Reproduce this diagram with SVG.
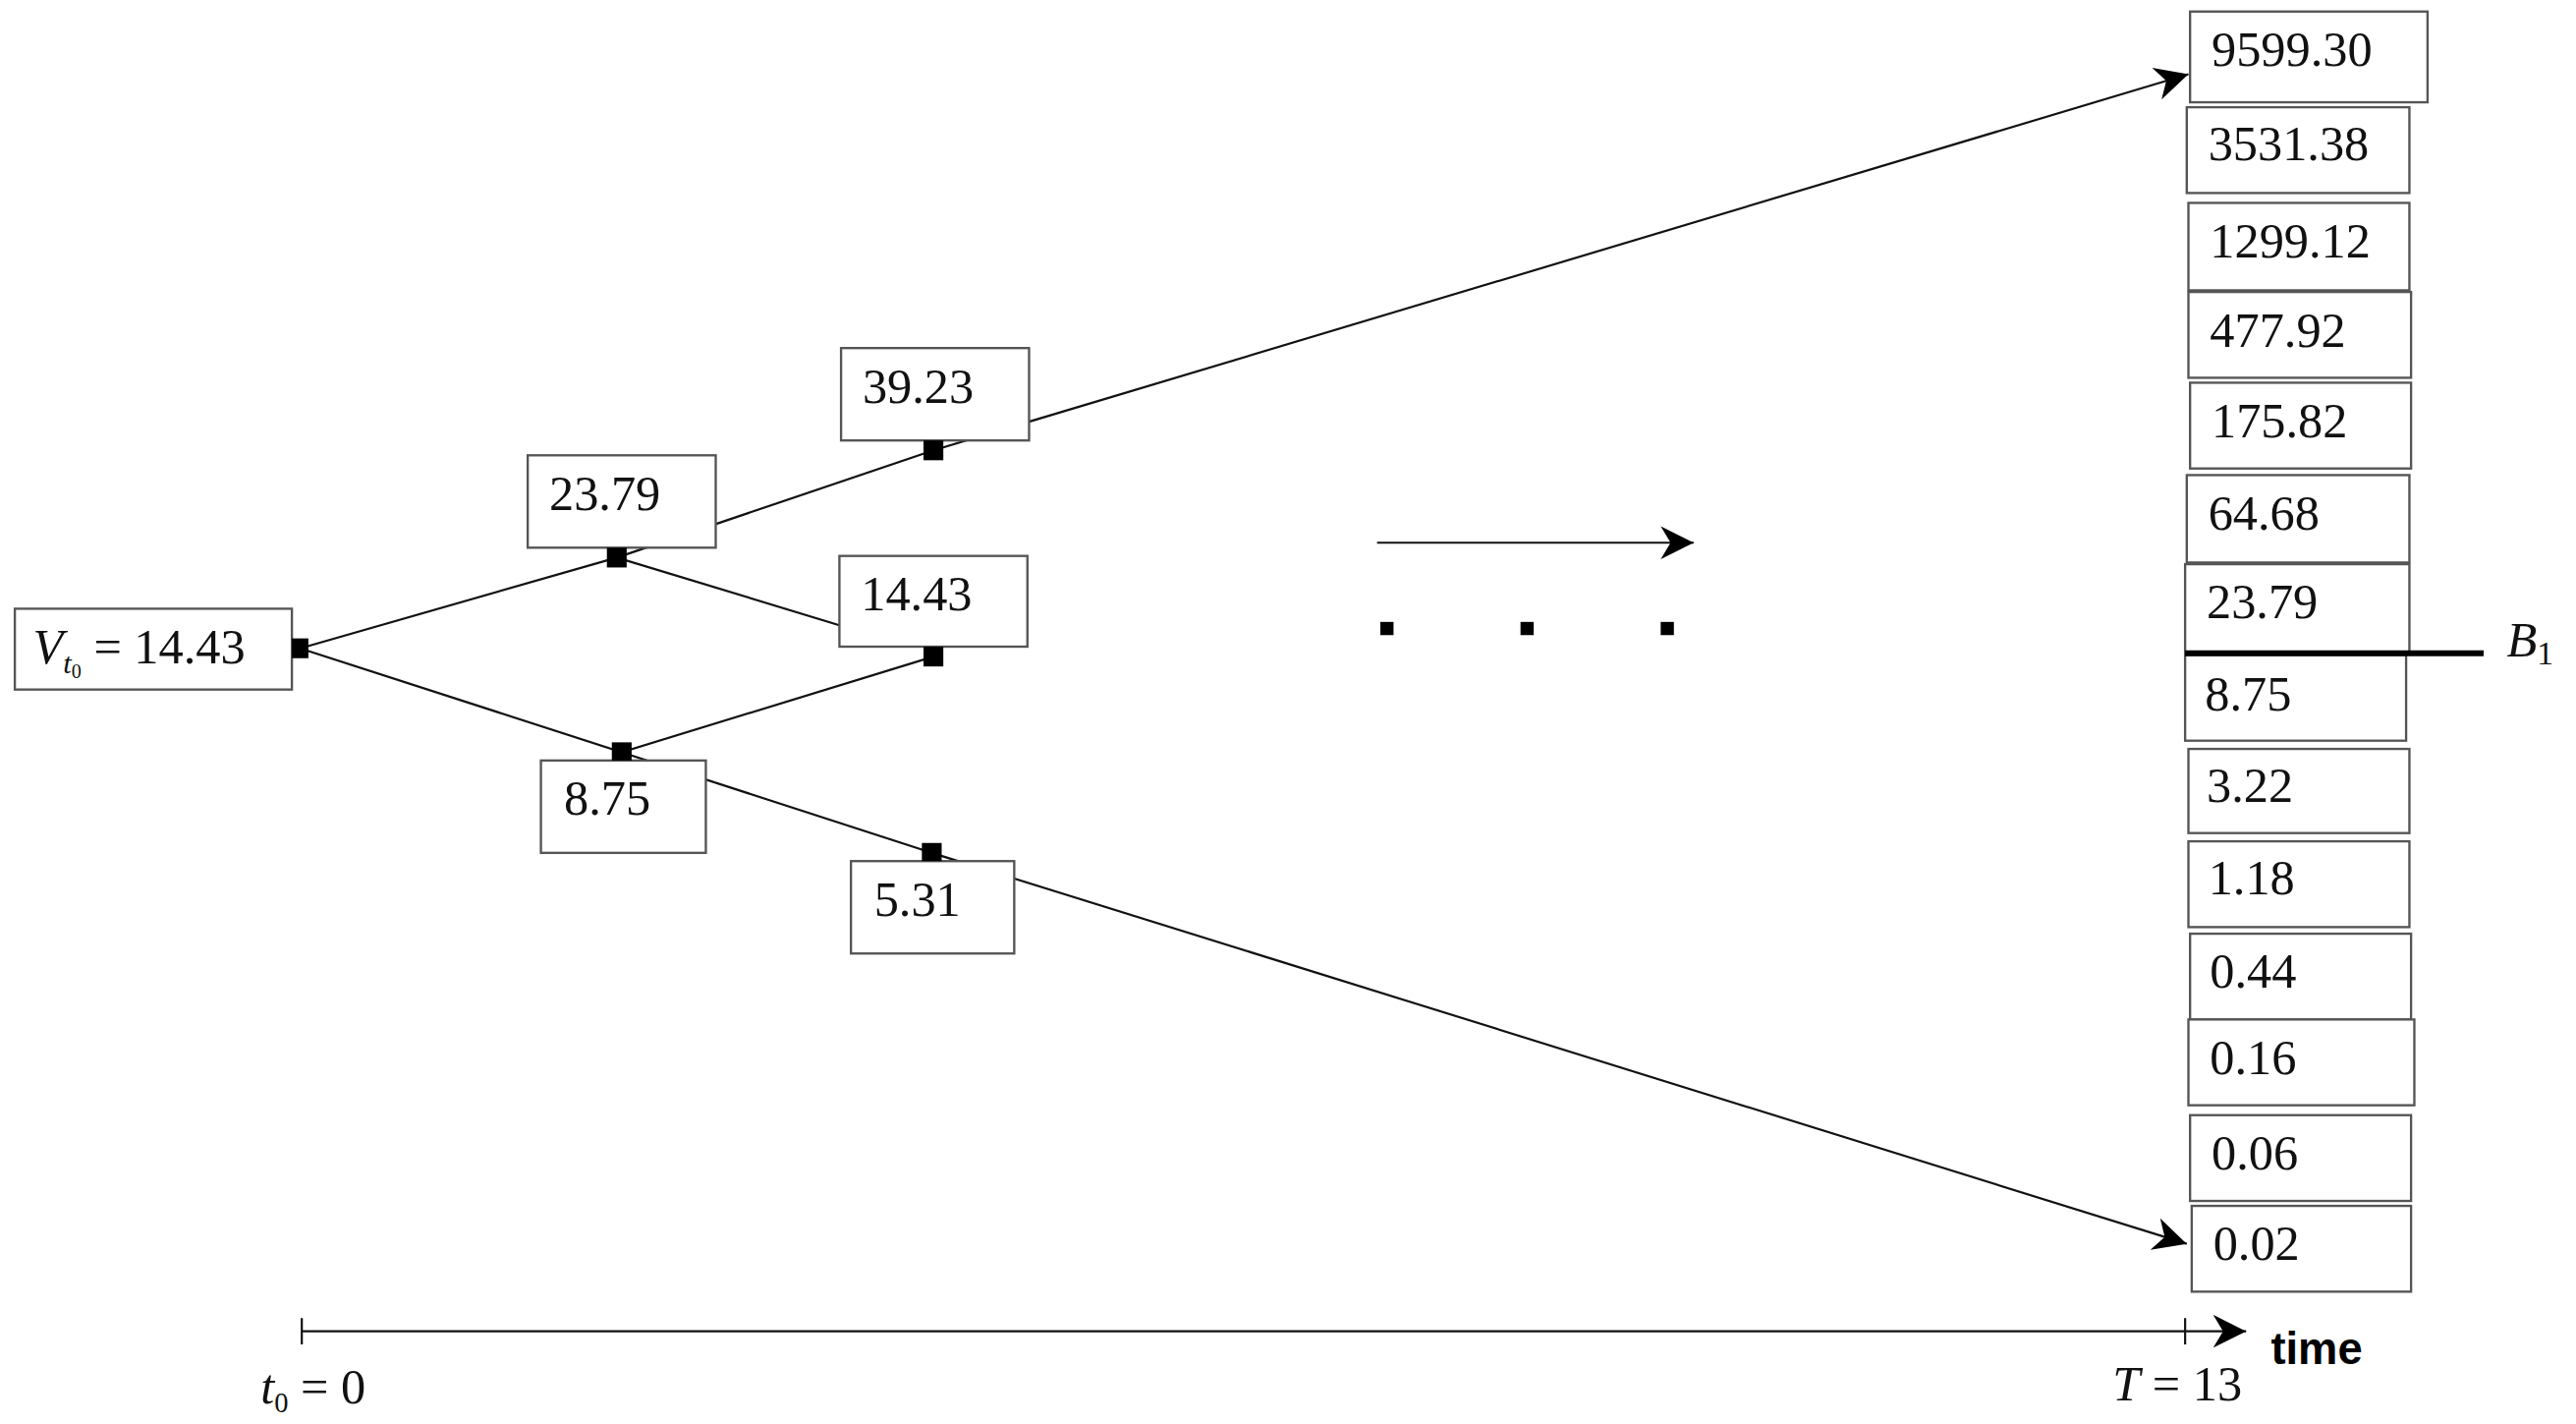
<svg xmlns="http://www.w3.org/2000/svg" width="2622" height="1449" viewBox="0 0 2622 1449">
<style>
.b{fill:#fff;stroke:#555;stroke-width:1.4}
.t{font-family:"Liberation Serif",serif;font-size:30px;fill:#111}
.l{stroke:#111;stroke-width:1.3;fill:none}
.sq{fill:#000}
</style>
<defs>
<marker id="ah" viewBox="0 0 10 10" refX="10" refY="5" markerWidth="22" markerHeight="20" markerUnits="userSpaceOnUse" orient="auto"><path d="M0,0 L10,5 L0,10 L3,5 z" fill="#000"/></marker>
</defs>
<rect width="2622" height="1449" fill="#fff"/>
<g transform="scale(1.6786)">
<g id="connectors">
<line class="l" x1="182" y1="393" x2="374" y2="338"/>
<line class="l" x1="182" y1="393" x2="377" y2="456"/>
<line class="l" x1="374" y1="338" x2="566" y2="273"/>
<line class="l" x1="566" y1="273" x2="1327" y2="45" marker-end="url(#ah)"/>
<line class="l" x1="374" y1="338" x2="509" y2="379"/>
<line class="l" x1="377" y1="456" x2="566" y2="398"/>
<line class="l" x1="377" y1="456" x2="565" y2="517"/>
<line class="l" x1="565" y1="517" x2="1326" y2="754" marker-end="url(#ah)"/>
<line class="l" x1="835" y1="329" x2="1027" y2="329" stroke-width="1.6" marker-end="url(#ah)"/>
<line class="l" x1="183" y1="807" x2="1362" y2="807" stroke-width="2" marker-end="url(#ah)"/>
<line class="l" x1="183" y1="799" x2="183" y2="815" stroke-width="2"/>
<line class="l" x1="1325" y1="799" x2="1325" y2="815" stroke-width="2"/>
</g>
<g id="dots"><rect class="sq" x="837" y="377" width="8" height="8"/><rect class="sq" x="922" y="377" width="8" height="8"/><rect class="sq" x="1007" y="377" width="8" height="8"/></g>
<g id="v0"><rect class="b" x="9" y="369" width="168" height="49"/><text class="t" x="20" y="402"><tspan font-style="italic">V</tspan><tspan font-style="italic" font-size="18" dy="6">t</tspan><tspan font-size="12" dy="3">0</tspan><tspan dy="-9"> = 14.43</tspan></text><rect class="sq" x="177" y="387" width="10" height="12"/></g>
<g id="n2379"><rect class="b" x="320" y="276" width="114" height="56"/><text class="t" x="333" y="309">23.79</text><rect class="sq" x="368" y="332" width="12" height="12"/></g>
<g id="n3923"><rect class="b" x="510" y="211" width="114" height="56"/><text class="t" x="523" y="244">39.23</text><rect class="sq" x="560" y="267" width="12" height="12"/></g>
<g id="n1443"><rect class="b" x="509" y="337" width="114" height="55"/><text class="t" x="522" y="370">14.43</text><rect class="sq" x="560" y="392" width="12" height="12"/></g>
<g id="n875"><rect class="b" x="328" y="461" width="100" height="56"/><text class="t" x="342" y="494">8.75</text><rect class="sq" x="371" y="450" width="12" height="11"/></g>
<g id="n531"><rect class="b" x="516" y="522" width="99" height="56"/><text class="t" x="530" y="555">5.31</text><rect class="sq" x="559" y="511" width="12" height="11"/></g>
<g id="r1"><rect class="b" x="1328" y="7" width="144" height="55"/><text class="t" x="1341" y="40">9599.30</text></g>
<g id="r2"><rect class="b" x="1326" y="65" width="135" height="52"/><text class="t" x="1339" y="97">3531.38</text></g>
<g id="r3"><rect class="b" x="1327" y="123" width="134" height="53"/><text class="t" x="1340" y="156">1299.12</text></g>
<g id="r4"><rect class="b" x="1327" y="177" width="135" height="52"/><text class="t" x="1340" y="210">477.92</text></g>
<g id="r5"><rect class="b" x="1328" y="232" width="134" height="52"/><text class="t" x="1341" y="265">175.82</text></g>
<g id="r6"><rect class="b" x="1326" y="288" width="135" height="53"/><text class="t" x="1339" y="321">64.68</text></g>
<g id="r7"><rect class="b" x="1325" y="342" width="136" height="54"/><text class="t" x="1338" y="375">23.79</text></g>
<g id="r8"><rect class="b" x="1325" y="397" width="134" height="52"/><text class="t" x="1337" y="431">8.75</text></g>
<g id="r9"><rect class="b" x="1327" y="454" width="134" height="51"/><text class="t" x="1338" y="486">3.22</text></g>
<g id="r10"><rect class="b" x="1327" y="510" width="134" height="52"/><text class="t" x="1339" y="542">1.18</text></g>
<g id="r11"><rect class="b" x="1328" y="566" width="134" height="52"/><text class="t" x="1340" y="599">0.44</text></g>
<g id="r12"><rect class="b" x="1327" y="618" width="137" height="52"/><text class="t" x="1340" y="651">0.16</text></g>
<g id="r13"><rect class="b" x="1328" y="676" width="134" height="52"/><text class="t" x="1341" y="709">0.06</text></g>
<g id="r14"><rect class="b" x="1329" y="731" width="133" height="52"/><text class="t" x="1342" y="764">0.02</text></g>
<g id="barrier">
<line x1="1325" y1="396" x2="1506" y2="396" stroke="#000" stroke-width="3.5"/>
<text class="t" x="1520" y="398"><tspan font-style="italic">B</tspan><tspan font-size="20" dy="5">1</tspan></text>
</g>
<g id="labels">
<text x="1377" y="827" font-family="Liberation Sans,sans-serif" font-weight="bold" font-size="27" fill="#000">time</text>
<text class="t" x="158" y="851"><tspan font-style="italic">t</tspan><tspan font-size="17" dy="5">0</tspan><tspan dy="-5"> = 0</tspan></text>
<text class="t" x="1281" y="849"><tspan font-style="italic">T</tspan> = 13</text>
</g>
</g>
</svg>
